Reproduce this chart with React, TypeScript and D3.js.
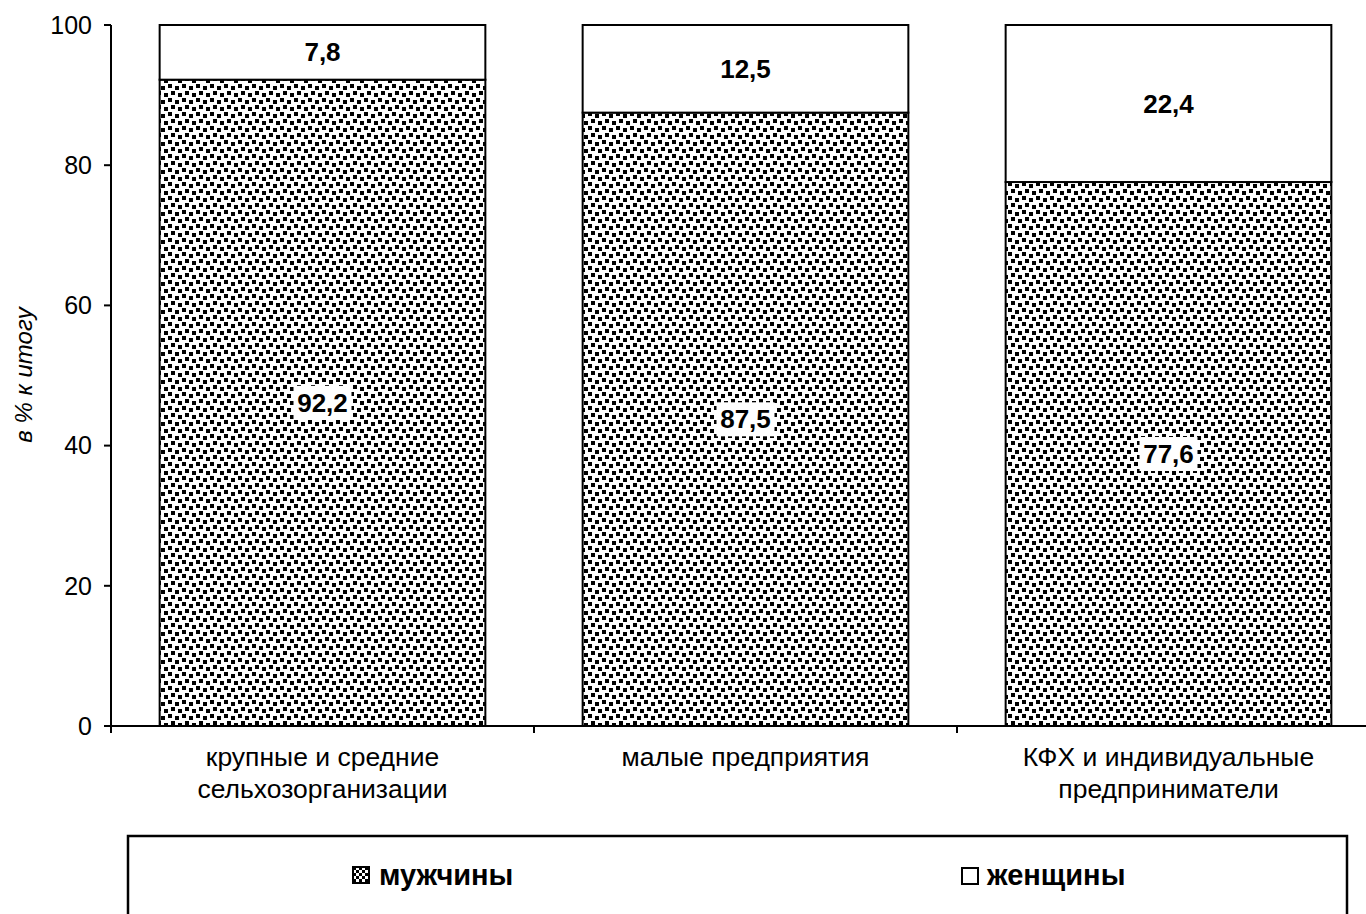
import React from "react";
import * as d3 from "d3";

const categories = [
  ["крупные и средние", "сельхозорганизации"],
  ["малые предприятия"],
  ["КФХ и индивидуальные", "предприниматели"],
];
const men = [92.2, 87.5, 77.6];
const women = [7.8, 12.5, 22.4];
const yTicks = [0, 20, 40, 60, 80, 100];
const seriesNames = ["мужчины", "женщины"];
const yTitle = "в % к итогу";

const FONT = "'Liberation Sans', Arial, sans-serif";

export default function App() {
  const W = 1366, H = 914;
  const left = 111, top = 25, bottom = 726;
  const bandW = 423;
  const x = d3.scaleBand<number>().domain([0, 1, 2]).range([left, left + bandW * 3]).paddingInner(0.23).paddingOuter(0.115);
  const y = d3.scaleLinear().domain([0, 100]).range([bottom, top]);
  const fmt = (v: number) => v.toFixed(1).replace(".", ",");

  return (
    <svg width={W} height={H} style={{ position: "absolute", left: 0, top: 0, display: "block" }} fontFamily={FONT}>
      <defs>
        <pattern id="dots" patternUnits="userSpaceOnUse" width="14" height="14">
          <rect width="14" height="14" fill="#fff" />
          <rect x="0" y="0" width="4" height="4" fill="#000" />
          <rect x="7" y="2" width="4" height="4" fill="#000" />
          <rect x="3" y="7" width="4" height="4" fill="#000" />
          <rect x="10" y="9" width="4" height="4" fill="#000" />
        </pattern>
        <pattern id="legdots" patternUnits="userSpaceOnUse" width="6" height="6" x="353" y="867">
          <rect width="6" height="6" fill="#fff" />
          <rect x="0" y="0" width="3" height="3" fill="#000" />
          <rect x="3" y="3" width="3" height="3" fill="#000" />
        </pattern>
      </defs>
      <rect width={W} height={H} fill="#fff" />
      {men.map((m, i) => {
        const x0 = x(i)!;
        const bw = x.bandwidth();
        const w = women[i];
        const cx = x0 + bw / 2;
        const mLabelY = y(m / 2);
        const wLabelY = y(m + w / 2);
        return (
          <g key={i}>
            <rect x={x0} y={y(m)} width={bw} height={y(0) - y(m)} fill="url(#dots)" stroke="#000" strokeWidth={2} />
            <rect x={x0} y={y(m + w)} width={bw} height={y(m) - y(m + w)} fill="#fff" stroke="#000" strokeWidth={2} />
            <rect x={cx - 29} y={mLabelY - 17} width={58} height={34} fill="#fff" />
            <text x={cx} y={mLabelY} dy="0.35em" textAnchor="middle" fontWeight="bold" fontSize={26} fill="#000">{fmt(m)}</text>
            <text x={cx} y={wLabelY} dy="0.35em" textAnchor="middle" fontWeight="bold" fontSize={26} fill="#000">{fmt(w)}</text>
          </g>
        );
      })}
      {/* y axis */}
      <line x1={left} x2={left} y1={top} y2={bottom} stroke="#000" strokeWidth={2} />
      {yTicks.map((t) => (
        <g key={t}>
          <line x1={left - 7} x2={left} y1={y(t)} y2={y(t)} stroke="#000" strokeWidth={2} />
          <text x={92} y={y(t)} dy="0.35em" textAnchor="end" fontSize={25} fill="#000">{t}</text>
        </g>
      ))}
      {/* x axis */}
      <line x1={left} x2={W} y1={bottom} y2={bottom} stroke="#000" strokeWidth={2} />
      {[0, 1, 2, 3].map((k) => (
        <line key={k} x1={left + bandW * k} x2={left + bandW * k} y1={bottom} y2={bottom + 7} stroke="#000" strokeWidth={2} />
      ))}
      {categories.map((lines, i) => (
        <text key={i} x={x(i)! + x.bandwidth() / 2} y={766} textAnchor="middle" fontSize={26.5} fill="#000">
          {lines.map((l, j) => (
            <tspan key={j} x={x(i)! + x.bandwidth() / 2} dy={j === 0 ? 0 : 32}>{l}</tspan>
          ))}
        </text>
      ))}
      <text transform={`translate(32,375) rotate(-90)`} textAnchor="middle" fontSize={24} fontStyle="italic" fill="#000">{yTitle}</text>
      {/* legend */}
      <rect x={128} y={836} width={1219} height={100} fill="#fff" stroke="#000" strokeWidth={2.5} />
      <rect x={353} y={867} width={16} height={16} fill="url(#legdots)" stroke="#000" strokeWidth={2} />
      <text x={379} y={885} fontSize={29} fontWeight="bold" fill="#000">{seriesNames[0]}</text>
      <rect x={962} y={868} width={16} height={16} fill="#fff" stroke="#000" strokeWidth={2} />
      <text x={987} y={885} fontSize={29} fontWeight="bold" fill="#000">{seriesNames[1]}</text>
    </svg>
  );
}
